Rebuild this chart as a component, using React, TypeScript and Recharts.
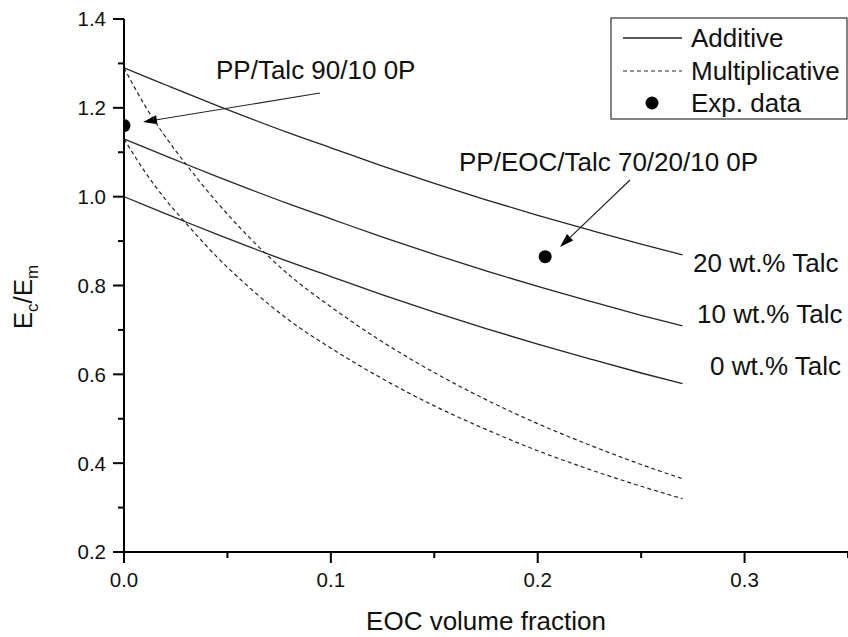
import React from 'react';
import { ComposedChart, Line, Scatter, XAxis, YAxis, Customized } from 'recharts';

// ---- data ----
const eocFraction = [0, 0.01, 0.02, 0.03, 0.045, 0.06, 0.08, 0.1, 0.125, 0.15, 0.175, 0.2, 0.225, 0.25, 0.27];
const additive0 = [1.0, 0.981, 0.962, 0.943, 0.915, 0.888, 0.853, 0.82, 0.779, 0.74, 0.703, 0.668, 0.635, 0.603, 0.579];
const additive10 = [1.13, 1.111, 1.092, 1.073, 1.045, 1.018, 0.983, 0.95, 0.909, 0.87, 0.833, 0.798, 0.765, 0.733, 0.709];
const additive20 = [1.29, 1.271, 1.252, 1.233, 1.205, 1.178, 1.143, 1.11, 1.069, 1.03, 0.993, 0.958, 0.925, 0.893, 0.869];
const multiplicative10 = [1.13, 1.057, 0.994, 0.94, 0.864, 0.798, 0.721, 0.659, 0.59, 0.529, 0.476, 0.428, 0.386, 0.348, 0.32];
const multiplicative20 = [1.29, 1.206, 1.135, 1.073, 0.987, 0.911, 0.823, 0.752, 0.673, 0.604, 0.543, 0.489, 0.441, 0.397, 0.365];
const expFraction = [0, 0.2036];
const expModulus = [1.16, 0.865];

const xTicks = [0, 0.05, 0.1, 0.15, 0.2, 0.25, 0.3, 0.35];
const yTicks = [0.2, 0.3, 0.4, 0.5, 0.6, 0.7, 0.8, 0.9, 1.0, 1.1, 1.2, 1.3, 1.4];
const curveLabels = ['20 wt.% Talc', '10 wt.% Talc', '0 wt.% Talc'];
const legendLabels = ['Additive', 'Multiplicative', 'Exp. data'];
const annotationLabels = ['PP/Talc 90/10 0P', 'PP/EOC/Talc 70/20/10 0P'];

const lineTable = eocFraction.map((x, i) => ({
  x,
  a0: additive0[i],
  a10: additive10[i],
  a20: additive20[i],
  m10: multiplicative10[i],
  m20: multiplicative20[i],
}));
const expTable = expFraction.map((x, i) => ({ x, y: expModulus[i] }));

const FONT = '"Liberation Sans", Arial, Helvetica, sans-serif';
const W = 848;
const H = 637;
const LEFT = 124;
const TOP = 19;
const BOTTOM = 552;
const LINE = '#262626';

const XTick = (props: any) => {
  const { x, y, payload } = props;
  const v = payload.value;
  const major = Math.abs(v * 10 - Math.round(v * 10)) < 1e-6;
  return (
    <g>
      <line x1={x} y1={y} x2={x} y2={y + (major ? 11 : 6)} stroke="#000" strokeWidth={2} />
      {major && (
        <text x={x} y={y + 35} textAnchor="middle" fontFamily={FONT} fontSize={20.5} fill="#111">
          {v.toFixed(1)}
        </text>
      )}
    </g>
  );
};

const YTick = (props: any) => {
  const { x, y, payload } = props;
  const v = payload.value;
  const major = Math.round(v * 10) % 2 === 0;
  return (
    <g>
      <line x1={x} y1={y} x2={x - (major ? 11 : 6)} y2={y} stroke="#000" strokeWidth={2} />
      {major && (
        <text x={x - 18} y={y} dy="0.36em" textAnchor="end" fontFamily={FONT} fontSize={20.5} fill="#111">
          {v.toFixed(1)}
        </text>
      )}
    </g>
  );
};

const Arrow = ({ x1, y1, x2, y2 }: { x1: number; y1: number; x2: number; y2: number }) => {
  const ang = Math.atan2(y2 - y1, x2 - x1);
  const len = 14;
  const half = 4.5;
  const bx = x2 - len * Math.cos(ang);
  const by = y2 - len * Math.sin(ang);
  const px = -Math.sin(ang) * half;
  const py = Math.cos(ang) * half;
  return (
    <g>
      <line x1={x1} y1={y1} x2={bx} y2={by} stroke={LINE} strokeWidth={1.2} />
      <polygon points={`${x2},${y2} ${bx + px},${by + py} ${bx - px},${by - py}`} fill="#000" />
    </g>
  );
};

const Overlay = () => (
  <g fontFamily={FONT} fill="#111">
    <defs>
      <clipPath id="plotAreaClip">
        <rect x={LEFT} y={TOP - 10} width={W - LEFT} height={BOTTOM - TOP + 10} />
      </clipPath>
    </defs>
    {/* Y axis title */}
    <text transform="translate(32, 297) rotate(-90)" textAnchor="middle" fontSize={26}>
      <tspan>E</tspan>
      <tspan fontSize={17} dy={6}>c</tspan>
      <tspan dy={-6}>/E</tspan>
      <tspan fontSize={17} dy={6}>m</tspan>
    </text>
    {/* X axis title */}
    <text x={486} y={630} textAnchor="middle" fontSize={26}>EOC volume fraction</text>

    {/* annotations */}
    <text x={216} y={79} fontSize={26}>{annotationLabels[0]}</text>
    <Arrow x1={320} y1={93} x2={143} y2={122} />
    <text x={459} y={171} fontSize={26}>{annotationLabels[1]}</text>
    <Arrow x1={630} y1={180} x2={560} y2={247} />

    {/* curve labels */}
    <text x={693} y={272} fontSize={26}>{curveLabels[0]}</text>
    <text x={697} y={323} fontSize={26}>{curveLabels[1]}</text>
    <text x={710} y={375} fontSize={26}>{curveLabels[2]}</text>

    {/* legend */}
    <rect x={611} y={18} width={236} height={101} fill="#fff" stroke="#333" strokeWidth={1.2} />
    <line x1={623} y1={38} x2={682} y2={38} stroke={LINE} strokeWidth={1.3} />
    <line x1={623} y1={71} x2={682} y2={71} stroke={LINE} strokeWidth={1.2} strokeDasharray="4 3" />
    <circle cx={652} cy={103} r={6.5} fill="#000" />
    <text x={691} y={47} fontSize={26}>{legendLabels[0]}</text>
    <text x={691} y={80} fontSize={26}>{legendLabels[1]}</text>
    <text x={691} y={112} fontSize={26}>{legendLabels[2]}</text>
  </g>
);

const Dot = (props: any) => (
  <circle cx={props.cx} cy={props.cy} r={6.5} fill="#000" clipPath="url(#plotAreaClip)" />
);

export default function App() {
  return (
    <div style={{ position: 'absolute', left: 0, top: 0, width: W, height: H, background: '#fff' }}>
      <ComposedChart
        width={W}
        height={H}
        data={lineTable}
        margin={{ top: TOP, right: 0, bottom: H - BOTTOM - 1, left: LEFT - 1 }}
      >
        <XAxis
          type="number"
          dataKey="x"
          domain={[0, 0.35]}
          ticks={xTicks}
          interval={0}
          height={1}
          tickSize={0}
          tickMargin={0}
          tick={<XTick />}
          tickLine={false}
          axisLine={{ stroke: '#000', strokeWidth: 2 }}
          allowDataOverflow
        />
        <YAxis
          type="number"
          domain={[0.2, 1.4]}
          ticks={yTicks}
          interval={0}
          width={1}
          tickSize={0}
          tickMargin={0}
          tick={<YTick />}
          tickLine={false}
          axisLine={{ stroke: '#000', strokeWidth: 2 }}
          allowDataOverflow
        />
        <Customized component={Overlay} />
        <Line dataKey="a0" stroke={LINE} strokeWidth={1.3} dot={false} isAnimationActive={false} type="monotone" />
        <Line dataKey="a10" stroke={LINE} strokeWidth={1.3} dot={false} isAnimationActive={false} type="monotone" />
        <Line dataKey="a20" stroke={LINE} strokeWidth={1.3} dot={false} isAnimationActive={false} type="monotone" />
        <Line dataKey="m10" stroke={LINE} strokeWidth={1.2} strokeDasharray="4 3" dot={false} isAnimationActive={false} type="monotone" />
        <Line dataKey="m20" stroke={LINE} strokeWidth={1.2} strokeDasharray="4 3" dot={false} isAnimationActive={false} type="monotone" />
        <Scatter data={expTable} dataKey="y" shape={<Dot />} isAnimationActive={false} />
      </ComposedChart>
    </div>
  );
}
